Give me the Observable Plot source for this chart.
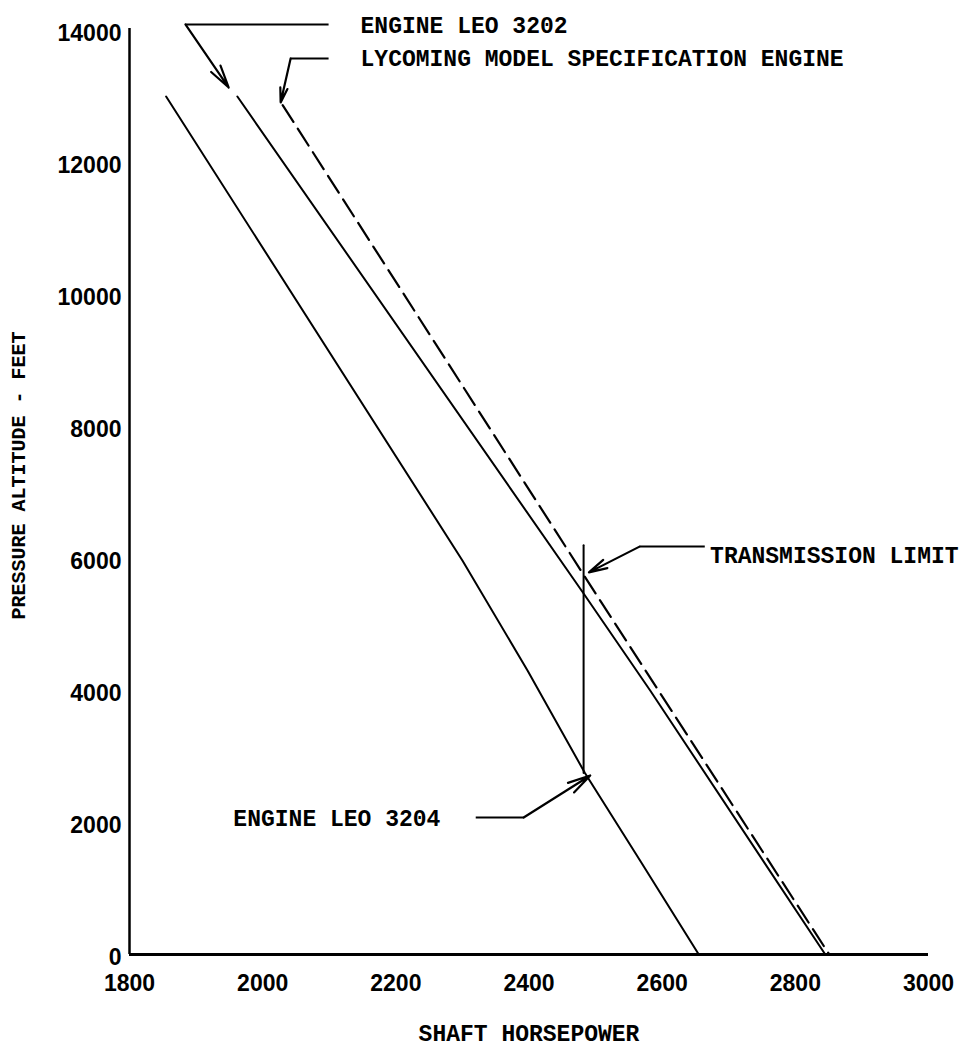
<!DOCTYPE html>
<html><head><meta charset="utf-8">
<script src="https://cdn.jsdelivr.net/npm/d3@7"></script>
<script src="https://cdn.jsdelivr.net/npm/@observablehq/plot@0.6"></script>
<style>body{margin:0;background:#fff;}</style>
</head><body><div id="chart"></div>
<script>
// Tick values
const xTicks = [1800, 2000, 2200, 2400, 2600, 2800, 3000];
const yTicks = [0, 2000, 4000, 6000, 8000, 10000, 12000, 14000];

// Series (shaft horsepower vs pressure altitude, ft)
const leo3204 = [
  {hp: 1855, alt: 13000},
  {hp: 2300, alt: 5970},
  {hp: 2398, alt: 4300},
  {hp: 2484, alt: 2750},
  {hp: 2567, alt: 1420},
  {hp: 2655, alt: 0}
];
const leo3202 = [
  {hp: 1962, alt: 13000},
  {hp: 2482, alt: 5470},
  {hp: 2582, alt: 4000},
  {hp: 2845, alt: 0}
];
const lycoming = [
  {hp: 2030, alt: 12870},
  {hp: 2500, alt: 5470},
  {hp: 2851, alt: 0}
];
const transmissionLimit = [
  {hp: 2482, alt: 2750},
  {hp: 2482, alt: 6200}
];

// Annotation texts (anchored in data units)
const labelText = ["ENGINE LEO 3202", "LYCOMING MODEL SPECIFICATION ENGINE", "TRANSMISSION LIMIT", "ENGINE LEO 3204"];
const labelHp = [2147, 2147, 2672, 1956];
const labelAlt = [14076, 13576, 6045, 2061];

// Leader lines: horizontal part + arrow part (data units)
const leaderFrom = [
  {x1: 1884, y1: 14091, x2: 2099, y2: 14091},
  {x1: 2042, y1: 13576, x2: 2099, y2: 13576},
  {x1: 2566, y1: 6180, x2: 2664, y2: 6180},
  {x1: 2320, y1: 2076, x2: 2392, y2: 2076}
];
const arrowTo = [
  {x1: 1884, y1: 14091, x2: 1949, y2: 13136},
  {x1: 2042, y1: 13576, x2: 2027, y2: 12909},
  {x1: 2566, y1: 6180, x2: 2490, y2: 5790},
  {x1: 2392, y1: 2076, x2: 2492, y2: 2712}
];

const mono = "'Liberation Mono', 'DejaVu Sans Mono', monospace";

const plot = Plot.plot({
  width: 960,
  height: 1062,
  marginLeft: 129,
  marginRight: 32,
  marginTop: 30,
  marginBottom: 108,
  style: {fontFamily: "'Liberation Sans', Arial, sans-serif", background: "#fff", color: "#000", overflow: "visible"},
  x: {domain: [1800, 3000]},
  y: {domain: [0, 14000]},
  marks: [
    Plot.axisX({ticks: xTicks, tickSize: 0, tickPadding: 20, fontSize: 23, fontWeight: "bold", label: null, tickFormat: d => String(d)}),
    Plot.axisY({ticks: yTicks, tickSize: 0, tickPadding: 8, fontSize: 23, fontWeight: "bold", label: null, dy: 3, tickFormat: d => String(d)}),
    Plot.ruleX([1800], {y1: 0, y2: 14030, stroke: "#000", strokeWidth: 2.5}),
    Plot.ruleY([0], {x1: 1800, x2: 3000, stroke: "#000", strokeWidth: 3}),
    Plot.line(leo3204, {x: "hp", y: "alt", stroke: "#000", strokeWidth: 2}),
    Plot.line(leo3202, {x: "hp", y: "alt", stroke: "#000", strokeWidth: 2}),
    Plot.line(lycoming, {x: "hp", y: "alt", stroke: "#000", strokeWidth: 2.2, strokeDasharray: "20,8"}),
    Plot.line(transmissionLimit, {x: "hp", y: "alt", stroke: "#000", strokeWidth: 2}),
    Plot.link(leaderFrom, {x1: "x1", y1: "y1", x2: "x2", y2: "y2", stroke: "#000", strokeWidth: 2}),
    Plot.arrow(arrowTo, {x1: "x1", y1: "y1", x2: "x2", y2: "y2", stroke: "#000", strokeWidth: 2.2, headAngle: 28, headLength: 16}),
    Plot.text(labelText, {x: (d, i) => labelHp[i], y: (d, i) => labelAlt[i], text: d => d, textAnchor: "start", fontFamily: mono, fontWeight: "bold", fontSize: 23, fill: "#000"}),
    Plot.text(["PRESSURE ALTITUDE - FEET"], {frameAnchor: "left", textAnchor: "middle", rotate: -90, dx: -111, dy: -17, fontFamily: mono, fontWeight: "bold", fontSize: 20, fill: "#000"}),
    Plot.text(["SHAFT HORSEPOWER"], {frameAnchor: "bottom", dy: 86, fontFamily: mono, fontWeight: "bold", fontSize: 23, fill: "#000"})
  ]
});
document.getElementById("chart").appendChild(plot);
</script>
</body></html>
